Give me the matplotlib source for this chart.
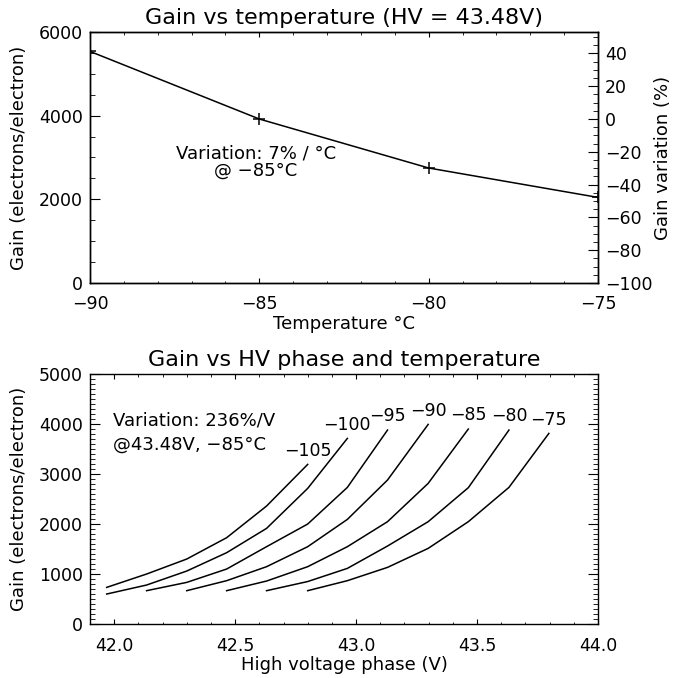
import matplotlib
matplotlib.use('Agg')
import matplotlib.pyplot as plt
from matplotlib.ticker import MultipleLocator, FormatStrFormatter

# top panel: gain at fixed HV = 43.48 V
temps = [-90, -85, -80, -75]
gain_t = [5536, 3920, 2749, 2046]

# bottom panel: gain vs HV phase, one curve per temperature
curve_temps = [-105, -100, -95, -90, -85, -80, -75]
hv = [
    [41.969, 42.134, 42.300, 42.465, 42.630, 42.800],
    [41.969, 42.134, 42.300, 42.465, 42.630, 42.800, 42.964],
    [42.134, 42.300, 42.465, 42.630, 42.800, 42.964, 43.130],
    [42.300, 42.465, 42.630, 42.800, 42.964, 43.130, 43.298],
    [42.465, 42.630, 42.800, 42.964, 43.130, 43.298, 43.464],
    [42.630, 42.800, 42.964, 43.130, 43.298, 43.464, 43.632],
    [42.800, 42.964, 43.130, 43.298, 43.464, 43.632, 43.797],
]
gain_hv = [
    [733, 1000, 1300, 1727, 2360, 3193],
    [600, 780, 1060, 1427, 1913, 2713, 3713],
    [667, 833, 1100, 1547, 2000, 2733, 3880],
    [667, 867, 1147, 1547, 2093, 2880, 3993],
    [667, 860, 1147, 1547, 2047, 2813, 3900],
    [667, 850, 1113, 1560, 2047, 2727, 3880],
    [667, 867, 1133, 1513, 2047, 2733, 3813],
]

plt.rcParams['font.family'] = 'DejaVu Sans'
plt.rcParams['font.size'] = 13
plt.rcParams['axes.linewidth'] = 1.0

fig = plt.figure(figsize=(6.74, 6.78), dpi=100)


def style_ticks(ax, right=True):
    ax.tick_params(direction='in', top=True, right=right, labelsize=12.5)
    ax.tick_params(axis='x', which='major', length=3.6, pad=9)
    ax.tick_params(axis='x', which='minor', length=1.8, top=True)
    ax.tick_params(axis='y', which='major', length=7.2, pad=5)
    ax.tick_params(axis='y', which='minor', length=3.6, right=right)
    ax.tick_params(which='minor', direction='in')


# ---- top ----
ax1 = fig.add_axes([0.1335, 0.5826, 0.7537, 0.3702])
ax1.plot(temps, gain_t, color='black', lw=1.1, marker='+', ms=9, mew=1.1)
ax1.set_xlim(-90, -75)
ax1.set_ylim(0, 6000)
ax1.xaxis.set_major_locator(MultipleLocator(5))
ax1.xaxis.set_minor_locator(MultipleLocator(1))
ax1.yaxis.set_major_locator(MultipleLocator(2000))
ax1.yaxis.set_minor_locator(MultipleLocator(500))
style_ticks(ax1, right=False)
ax1.set_title('Gain vs temperature (HV = 43.48V)', fontsize=16, pad=6)
ax1.set_xlabel('Temperature °C', labelpad=1)
ax1.set_ylabel('Gain (electrons/electron)', labelpad=8)
ax1.text(-85.1, 3103, 'Variation: 7% / °C', ha='center', va='center')
ax1.text(-85.1, 2684, '@ \u221285°C', ha='center', va='center')

g0 = gain_t[temps.index(-85)]
ax1r = ax1.twinx()
ax1r.set_ylim((0 / g0 - 1) * 100, (6000 / g0 - 1) * 100)
ax1r.yaxis.set_major_locator(MultipleLocator(20))
ax1r.yaxis.set_minor_locator(MultipleLocator(5))
ax1r.tick_params(which='both', direction='in', labelsize=12.5, pad=5)
ax1r.tick_params(which='major', length=7.2)
ax1r.tick_params(which='minor', length=3.6)
ax1r.set_ylabel('Gain variation (%)', labelpad=1)

# ---- bottom ----
ax2 = fig.add_axes([0.1335, 0.0796, 0.7537, 0.3687])
for t, x, y in zip(curve_temps, hv, gain_hv):
    ax2.plot(x, y, color='black', lw=1.1)
    ax2.annotate('\u2212%d' % abs(t), (x[-1], y[-1]), xytext=(0, 10),
                 textcoords='offset points', ha='center', va='center',
                 fontsize=12.5)
ax2.set_xlim(41.9, 44.0)
ax2.set_ylim(0, 5000)
ax2.xaxis.set_major_locator(MultipleLocator(0.5))
ax2.xaxis.set_minor_locator(MultipleLocator(0.1))
ax2.yaxis.set_major_locator(MultipleLocator(1000))
ax2.yaxis.set_minor_locator(MultipleLocator(100))
ax2.xaxis.set_major_formatter(FormatStrFormatter('%.1f'))
style_ticks(ax2)
ax2.set_title('Gain vs HV phase and temperature', fontsize=16, pad=6)
ax2.set_xlabel('High voltage phase (V)', labelpad=1)
ax2.set_ylabel('Gain (electrons/electron)', labelpad=8)
ax2.text(41.996, 4070, 'Variation: 236%/V', ha='left', va='center')
ax2.text(41.996, 3580, '@43.48V, \u221285°C', ha='left', va='center')

fig.savefig('out.png', dpi=100)
